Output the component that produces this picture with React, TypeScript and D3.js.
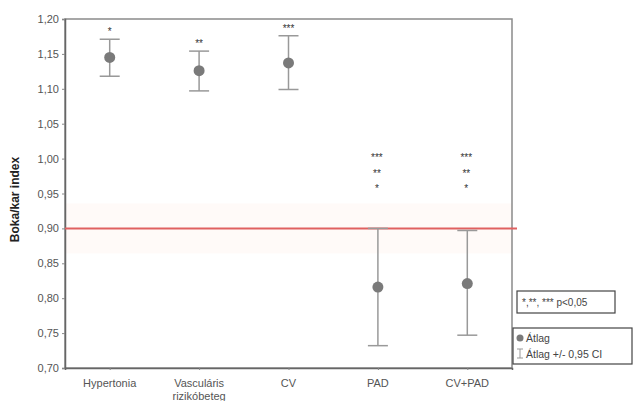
import React, { useRef, useEffect } from 'react';
import * as d3 from 'd3';

const categories = ['Hypertonia', 'Vasculáris\nrizikóbeteg', 'CV', 'PAD', 'CV+PAD'];
const means = [1.145, 1.126, 1.137, 0.816, 0.821];
const ciLower = [1.118, 1.097, 1.099, 0.732, 0.747];
const ciUpper = [1.171, 1.154, 1.176, 0.900, 0.897];
const stars = [['*'], ['**'], ['***'], ['***', '**', '*'], ['***', '**', '*']];
const yTicks = [0.70, 0.75, 0.80, 0.85, 0.90, 0.95, 1.00, 1.05, 1.10, 1.15, 1.20];
const refLine = 0.90;

const App: React.FC = () => {
    const svgRef = useRef<SVGSVGElement | null>(null);

    useEffect(() => {
        if (!svgRef.current) return;
        const svg = d3.select(svgRef.current);
        svg.selectAll("*").remove();

        const W = 633, H = 401;
        const left = 65, right = 512, top = 19, bottom = 368;
        const font = "'Liberation Sans', Arial, sans-serif";
        const grey = "#7a7a7a";

        svg.attr("width", W).attr("height", H).style("font-family", font);
        svg.append("rect").attr("width", W).attr("height", H).attr("fill", "#fff");

        const x = d3.scalePoint<string>().domain(categories).range([left, right]).padding(0.5);
        const y = d3.scaleLinear().domain([0.70, 1.20]).range([bottom, top]);

        // faint tint around the reference line
        svg.append("rect").attr("x", left).attr("y", y(refLine) - 25).attr("width", right - left).attr("height", 50)
            .attr("fill", "#fffaf8");

        // frame
        svg.append("rect").attr("x", left).attr("y", top).attr("width", right - left).attr("height", bottom - top)
            .attr("fill", "none").attr("stroke", "#8a8a8a").attr("stroke-width", 1.5);

        // y axis
        const yAxis = svg.append("g").attr("transform", `translate(${left},0)`)
            .call(d3.axisLeft(y).tickValues(yTicks).tickSize(3).tickFormat(d => d3.format(".2f")(+d).replace('.', ',')));
        yAxis.select(".domain").attr("stroke", "#666").attr("stroke-width", 1.5);
        yAxis.selectAll("line").attr("stroke", "#888");
        yAxis.selectAll("text").attr("fill", "#555").style("font-size", "11px").style("font-family", font).attr("x", -6);

        // x axis
        const xAxis = svg.append("g").attr("transform", `translate(0,${bottom})`)
            .call(d3.axisBottom(x).tickSize(2).tickFormat(() => ""));
        xAxis.select(".domain").attr("stroke", "#666").attr("stroke-width", 1.5);
        xAxis.selectAll("line").attr("stroke", "#888");
        categories.forEach(c => {
            const t = svg.append("text").attr("x", x(c)!).attr("y", bottom + 19)
                .attr("text-anchor", "middle").attr("fill", "#555").style("font-size", "11px");
            c.split("\n").forEach((line, i) => {
                t.append("tspan").attr("x", x(c)!).attr("dy", i === 0 ? 0 : 13).text(line);
            });
        });

        // y label
        svg.append("text").attr("transform", `translate(19,${(top + bottom) / 2 + 6}) rotate(-90)`)
            .attr("text-anchor", "middle").attr("fill", "#222").style("font-size", "12px").style("font-weight", "bold")
            .text("Boka/kar index");

        // reference line
        svg.append("line").attr("x1", left).attr("x2", right + 5).attr("y1", y(refLine)).attr("y2", y(refLine))
            .attr("stroke", "#e06060").attr("stroke-width", 2);

        // error bars
        categories.forEach((c, i) => {
            const cx = x(c)!;
            const g = svg.append("g").attr("stroke", "#999").attr("stroke-width", 1.5);
            g.append("line").attr("x1", cx).attr("x2", cx).attr("y1", y(ciLower[i])).attr("y2", y(ciUpper[i]));
            g.append("line").attr("x1", cx - 10).attr("x2", cx + 10).attr("y1", y(ciLower[i])).attr("y2", y(ciLower[i]));
            g.append("line").attr("x1", cx - 10).attr("x2", cx + 10).attr("y1", y(ciUpper[i])).attr("y2", y(ciUpper[i]));
            svg.append("circle").attr("cx", cx).attr("cy", y(means[i])).attr("r", 5.5).attr("fill", grey);
        });

        // significance stars
        categories.forEach((c, i) => {
            const s = stars[i];
            if (s.length === 1) {
                svg.append("text").attr("x", x(c)!).attr("y", y(ciUpper[i]) - 4).attr("text-anchor", "middle")
                    .attr("fill", "#333").style("font-size", "10px").text(s[0]);
            } else {
                s.forEach((t, k) => {
                    svg.append("text").attr("x", x(c)! - 1).attr("y", 161 + k * 15.5).attr("text-anchor", "middle")
                        .attr("fill", "#333").style("font-size", "10px").text(t);
                });
            }
        });

        // legend 1
        svg.append("rect").attr("x", 517).attr("y", 291).attr("width", 98).attr("height", 22)
            .attr("fill", "#fff").attr("stroke", "#444").attr("stroke-width", 1.2);
        svg.append("text").attr("x", 522).attr("y", 306).attr("fill", "#444").style("font-size", "10px")
            .text("*,**, *** p<0,05");

        // legend 2
        svg.append("rect").attr("x", 513).attr("y", 328).attr("width", 119).attr("height", 36)
            .attr("fill", "#fff").attr("stroke", "#444").attr("stroke-width", 1.2);
        svg.append("circle").attr("cx", 520).attr("cy", 338).attr("r", 3.5).attr("fill", grey);
        svg.append("text").attr("x", 526).attr("y", 342).attr("fill", "#444").style("font-size", "10.5px").text("Átlag");
        const lg = svg.append("g").attr("stroke", "#999").attr("stroke-width", 1);
        lg.append("line").attr("x1", 520).attr("x2", 520).attr("y1", 349).attr("y2", 358);
        lg.append("line").attr("x1", 517).attr("x2", 523).attr("y1", 349).attr("y2", 349);
        lg.append("line").attr("x1", 517).attr("x2", 523).attr("y1", 358).attr("y2", 358);
        svg.append("text").attr("x", 526).attr("y", 358).attr("fill", "#444").style("font-size", "10.5px")
            .text("Átlag +/- 0,95 CI");
    }, []);

    return (
        <div style={{ position: 'absolute', left: 0, top: 0 }}>
            <svg ref={svgRef}></svg>
        </div>
    );
};

export default App;
